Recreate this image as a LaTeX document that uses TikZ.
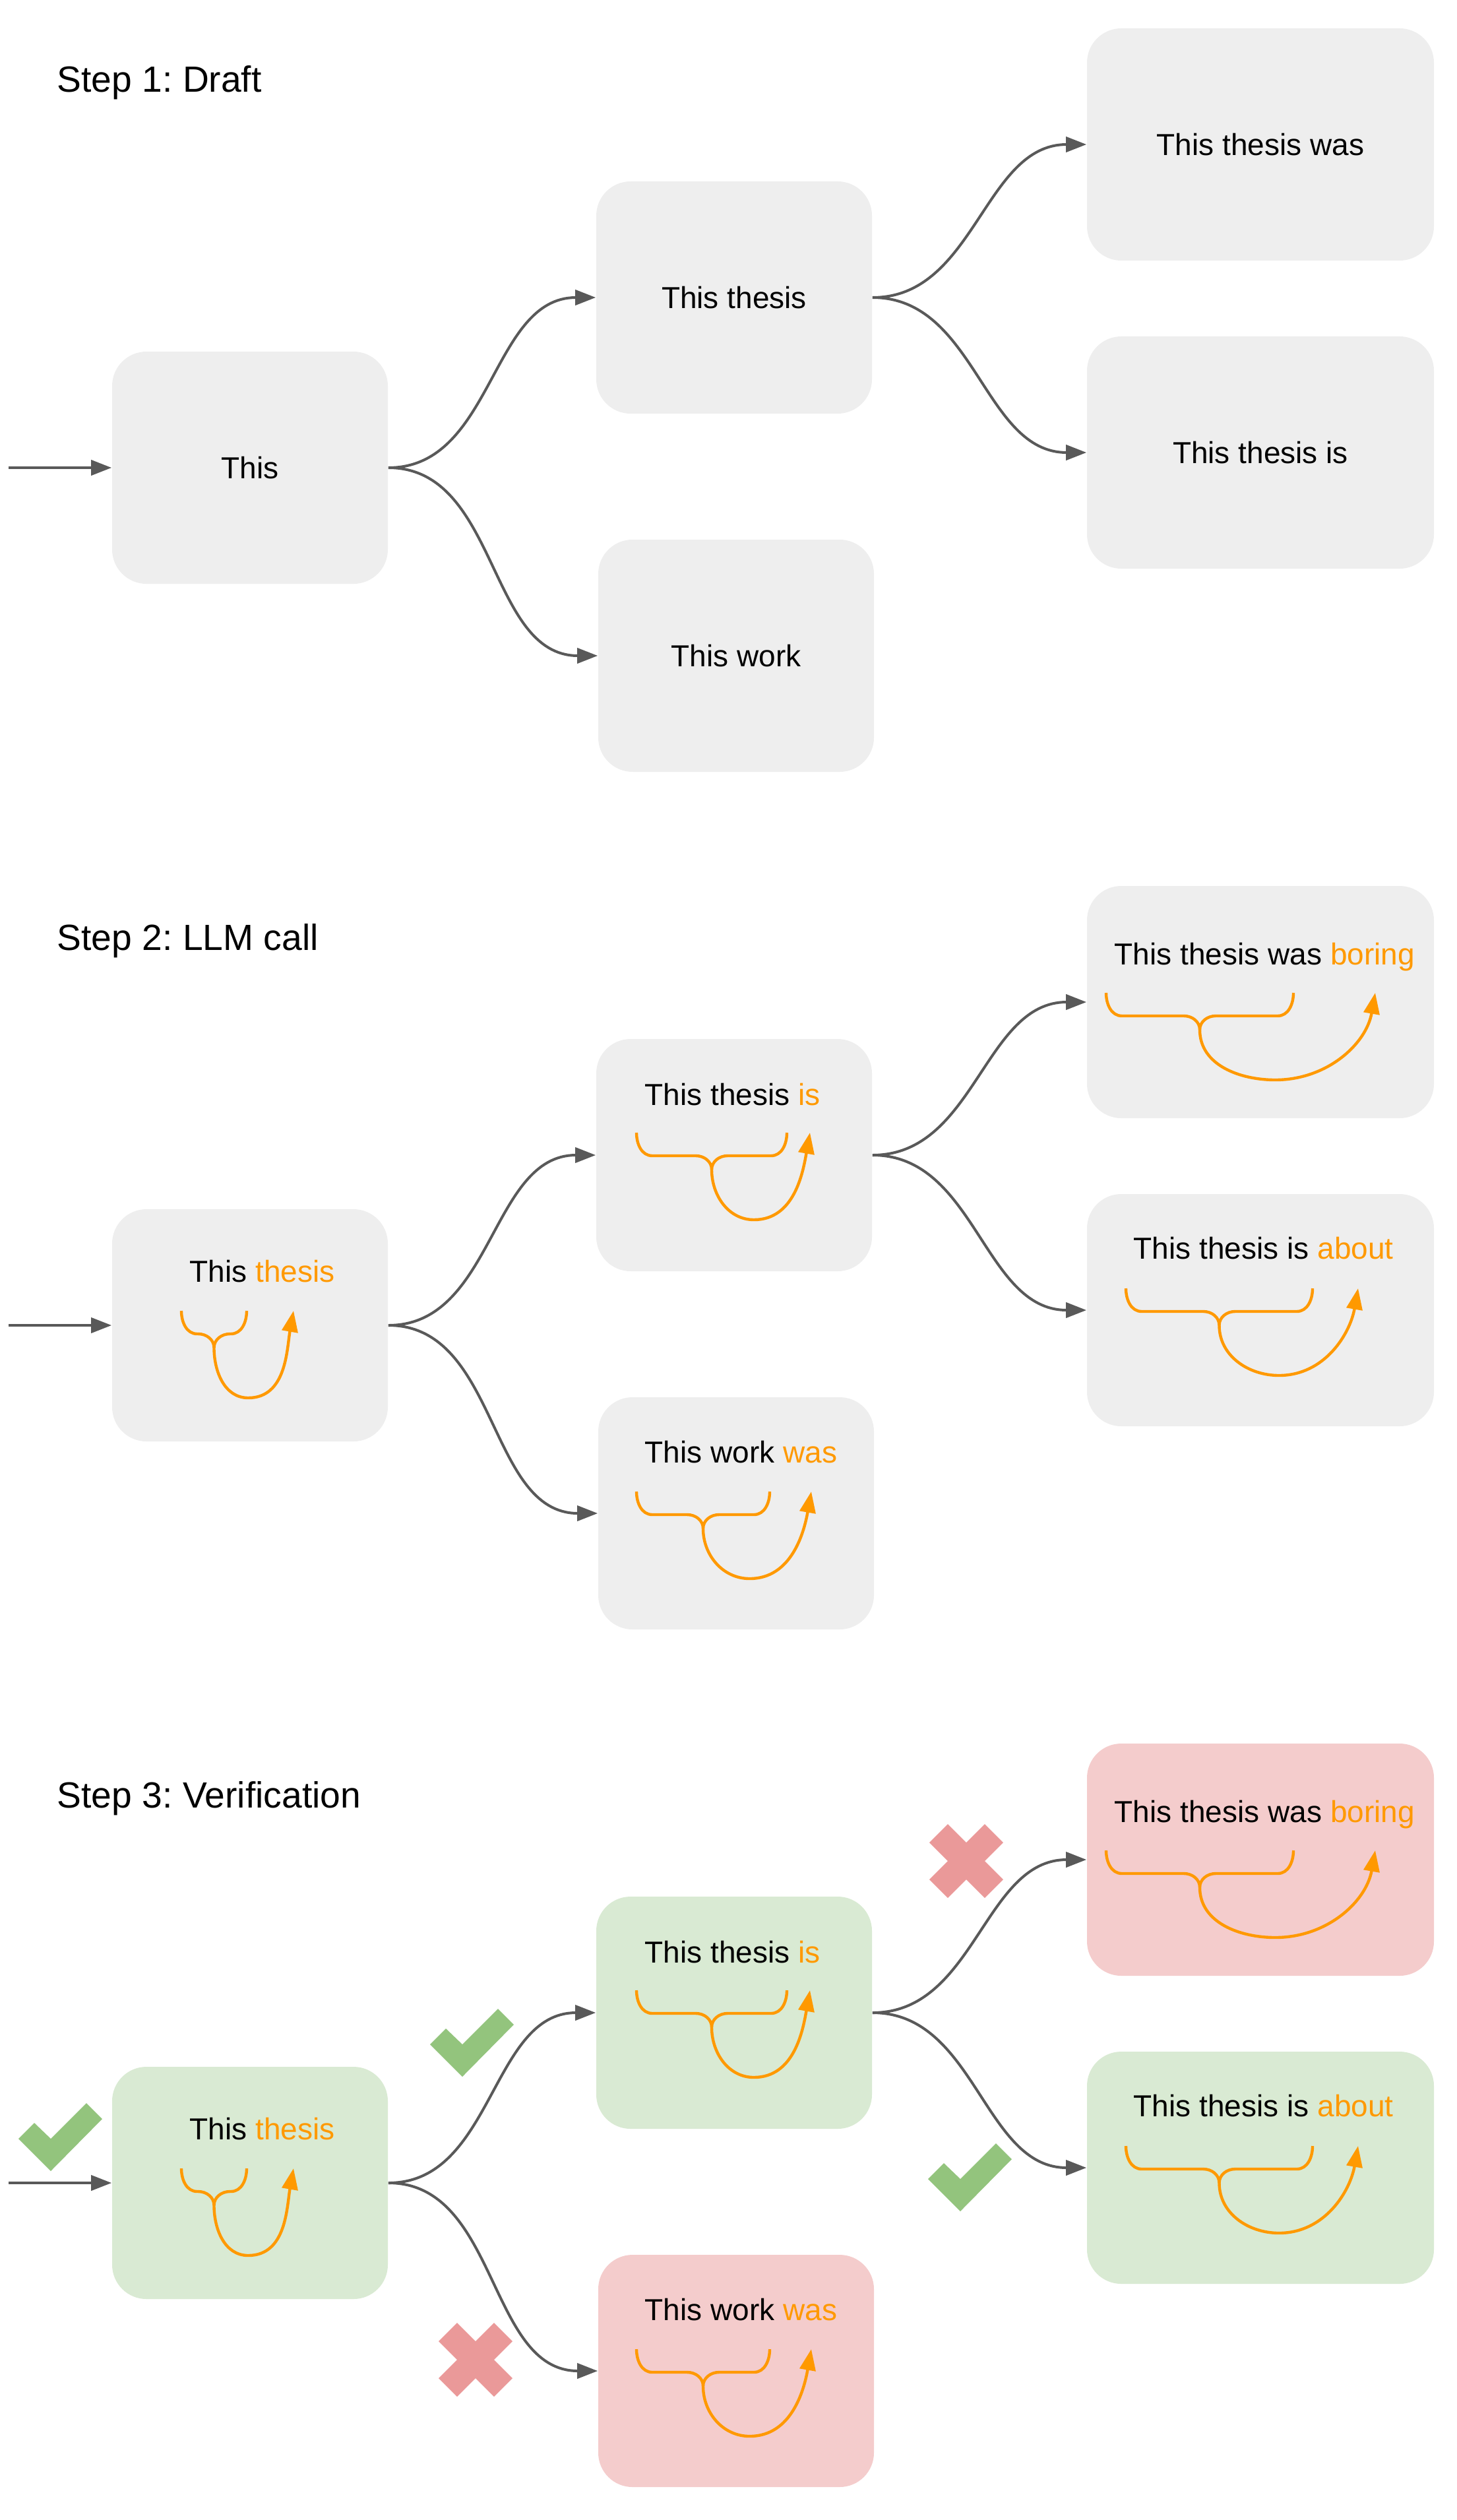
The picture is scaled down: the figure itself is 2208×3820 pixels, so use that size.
\documentclass[tikz,border=0pt]{standalone}
\usepackage{fontspec}
\setmainfont{Liberation Sans}
\usetikzlibrary{arrows.meta}
\frenchspacing

\definecolor{boxgrey}{RGB}{238,238,238}
\definecolor{boxgreen}{RGB}{217,234,211}
\definecolor{boxred}{RGB}{244,204,204}
\definecolor{markgreen}{RGB}{147,196,125}
\definecolor{markred}{RGB}{234,153,153}
\definecolor{tokorange}{RGB}{255,153,0}
\definecolor{flowgrey}{RGB}{89,89,89}

% brace under the context, arrow to the predicted token
% #1 brace left, #2 brace right, #3 arrow tip x, #4 top y
\newcommand{\predmark}[4]{%
  \pgfmathsetmacro{\pmmid}{(#1+#2)/2}%
  \pgfmathsetmacro{\pmlow}{\pmmid+0.43*(#3-\pmmid)}%
  \draw[predline] (#1,#4) to[out=90,in=180] ++(24,35) -- ({\pmmid-24},{#4+35}) to[out=0,in=-90] ({\pmmid},{#4+56});
  \draw[predline] (#2,#4) to[out=90,in=0] ++(-24,35) -- ({\pmmid+24},{#4+35}) to[out=180,in=-90] ({\pmmid},{#4+56});
  \draw[predline,-{Triangle[length=8pt,width=6pt]}] ({\pmmid},{#4+56}) to[out=90,in=180] ({\pmlow},{#4+132}) to[out=0,in=100] (#3,#4);
}

\begin{document}
\begin{tikzpicture}[x=0.25pt,y=0.25pt,yscale=-1,xscale=1,
  tokbox/.style={rounded corners=13pt, minimum width=104.5pt, minimum height=88pt, inner sep=0pt, fill=boxgrey, font=\fontsize{11.5}{14}\selectfont},
  widebox/.style={tokbox, minimum width=131.5pt},
  okfill/.style={fill=boxgreen},
  badfill/.style={fill=boxred},
  toktext/.style={anchor=base west, inner sep=0pt, font=\fontsize{11.5}{14}\selectfont},
  steplabel/.style={anchor=base west, inner sep=0pt, font=\fontsize{13.8}{16}\selectfont},
  flow/.style={draw=flowgrey, line width=1pt, -{Triangle[length=7.75pt,width=5.75pt]}},
  predline/.style={draw=tokorange, line width=1.1pt},
  okmark/.pic={\fill[markgreen] (0,0) -- (-49,49) -- (-25,73) -- (0,49) -- (54,103) -- (78,79) -- cycle;},
  badmark/.pic={\fill[markred] (-28,-56) -- (0,-28) -- (28,-56) -- (56,-28) -- (28,0) -- (56,28) -- (28,56) -- (0,28) -- (-28,56) -- (-56,28) -- (-28,0) -- (-56,-28) -- cycle;},
]
\useasboundingbox (0,0) rectangle (2208,3820);

%%% Step 1
% Text Node
\node[steplabel] (s1) at (86,140) {Step 1: Draft};
%Shape: Rounded Rect
\node[tokbox] (a1) at (379,709) {This};
\node[tokbox] (b1) at (1113,451) {This thesis};
\node[tokbox] (c1) at (1116,994) {This work};
\node[widebox] (d1) at (1911,219) {This thesis was};
\node[widebox] (e1) at (1911,686) {This thesis is};
%Curve Lines
\coordinate (in1) at (13,709);
\draw[flow] (in1) -- (a1.west);
\draw[flow] (a1.east) to[out=0,in=180] (b1.west);
\draw[flow] (a1.east) to[out=0,in=180] (c1.west);
\draw[flow] (b1.east) to[out=0,in=180] (d1.west);
\draw[flow] (b1.east) to[out=0,in=180] (e1.west);

%%% Step 2
% Text Node
\node[steplabel] (s2) at (86,1440) {Step 2: LLM call};
%Shape: Rounded Rect
\node[tokbox] (a2) at (379,2009) {};
\node[tokbox] (b2) at (1113,1751) {};
\node[tokbox] (c2) at (1116,2294) {};
\node[widebox] (d2) at (1911,1519) {};
\node[widebox] (e2) at (1911,1986) {};
% Text Node
\node[toktext] (a2t) at (287,1943) {This \textcolor{tokorange}{thesis}};
\node[toktext] (b2t) at (977,1675) {This thesis \textcolor{tokorange}{is}};
\node[toktext] (c2t) at (977,2217) {This work \textcolor{tokorange}{was}};
\node[toktext] (d2t) at (1689,1462) {This thesis was \textcolor{tokorange}{boring}};
\node[toktext] (e2t) at (1718,1908) {This thesis is \textcolor{tokorange}{about}};
%Brace and Arrow
\predmark{275}{374}{445}{1987}
\predmark{965}{1193}{1228}{1717}
\predmark{965}{1167}{1230}{2261}
\predmark{1677}{1961}{2085}{1505}
\predmark{1707}{1990}{2059}{1953}
%Curve Lines
\coordinate (in2) at (13,2009);
\draw[flow] (in2) -- (a2.west);
\draw[flow] (a2.east) to[out=0,in=180] (b2.west);
\draw[flow] (a2.east) to[out=0,in=180] (c2.west);
\draw[flow] (b2.east) to[out=0,in=180] (d2.west);
\draw[flow] (b2.east) to[out=0,in=180] (e2.west);

%%% Step 3
% Text Node
\node[steplabel] (s3) at (86,2740) {Step 3: Verification};
%Shape: Rounded Rect
\node[tokbox,okfill] (a3) at (379,3309) {};
\node[tokbox,okfill] (b3) at (1113,3051) {};
\node[tokbox,badfill] (c3) at (1116,3594) {};
\node[widebox,badfill] (d3) at (1911,2819) {};
\node[widebox,okfill] (e3) at (1911,3286) {};
% Text Node
\node[toktext] (a3t) at (287,3243) {This \textcolor{tokorange}{thesis}};
\node[toktext] (b3t) at (977,2975) {This thesis \textcolor{tokorange}{is}};
\node[toktext] (c3t) at (977,3517) {This work \textcolor{tokorange}{was}};
\node[toktext] (d3t) at (1689,2762) {This thesis was \textcolor{tokorange}{boring}};
\node[toktext] (e3t) at (1718,3208) {This thesis is \textcolor{tokorange}{about}};
%Brace and Arrow
\predmark{275}{374}{445}{3287}
\predmark{965}{1193}{1228}{3017}
\predmark{965}{1167}{1230}{3561}
\predmark{1677}{1961}{2085}{2805}
\predmark{1707}{1990}{2059}{3253}
%Curve Lines
\coordinate (in3) at (13,3309);
\draw[flow] (in3) -- (a3.west);
\draw[flow] (a3.east) to[out=0,in=180] (b3.west);
\draw[flow] (a3.east) to[out=0,in=180] (c3.west);
\draw[flow] (b3.east) to[out=0,in=180] (d3.west);
\draw[flow] (b3.east) to[out=0,in=180] (e3.west);
%Shape: Check and Cross
\pic (ok1) at (77,3291) {okmark};
\pic (ok2) at (701,3148) {okmark};
\pic (ok3) at (1456,3352) {okmark};
\pic (bad1) at (1465,2821) {badmark};
\pic (bad2) at (721,3577) {badmark};

\end{tikzpicture}
\end{document}
